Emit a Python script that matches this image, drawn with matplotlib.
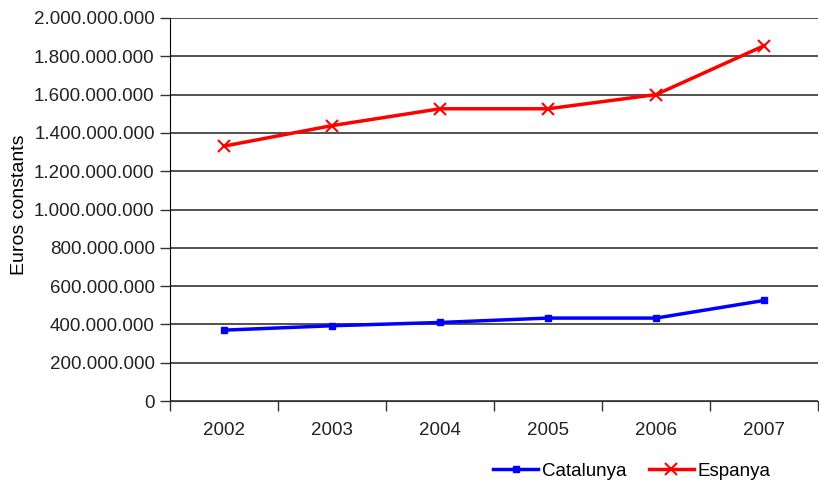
import matplotlib
matplotlib.use("Agg")
import matplotlib.pyplot as plt
from matplotlib.ticker import FuncFormatter, FixedLocator

years = ["2002", "2003", "2004", "2005", "2006", "2007"]
catalunya = [370e6, 393e6, 410e6, 433e6, 433e6, 525e6]
espanya = [1331e6, 1438e6, 1526e6, 1526e6, 1600e6, 1855e6]

plt.rcParams['font.family'] = ['Liberation Sans', 'DejaVu Sans']

fig = plt.figure(figsize=(8.2, 4.82), dpi=100)
ax = fig.add_axes([170/820, 1-401/482, 648/820, 383/482])

x = list(range(len(years)))
ax.plot(x, catalunya, color='#0000ff', lw=2.5, marker='s', ms=4.5, label='Catalunya')
ax.plot(x, espanya, color='#ff0000', lw=2.5, marker='x', ms=8, mew=1.5, label='Espanya')

ax.set_xlim(-0.5, 5.5)
ax.set_ylim(0, 2e9)
ax.set_yticks([i * 2e8 for i in range(11)])
ax.yaxis.set_major_formatter(FuncFormatter(lambda v, p: f"{int(round(v)):,}".replace(",", ".")))
ax.grid(axis='y', color='#333333', lw=1.2)
ax.set_axisbelow(True)

ax.set_xticks(x)
ax.set_xticklabels(years)
ax.xaxis.set_minor_locator(FixedLocator([i - 0.5 for i in range(7)]))
ax.tick_params(axis='x', which='major', length=0, pad=15, labelsize=13.5, labelcolor='#222222')
ax.tick_params(axis='x', which='minor', length=7, width=1, color='#333333', direction='out')
ax.tick_params(axis='y', length=7, width=1, color='#333333', labelsize=13.5, labelcolor='#222222', pad=4)

for s in ['top', 'right']:
    ax.spines[s].set_visible(False)
ax.spines['left'].set_color('black')
ax.spines['bottom'].set_color('#333333')

fig.text(20/820, 1-205/482, 'Euros constants', rotation=90, ha='center', va='center', fontsize=14, color='black')

fig.legend(loc='center', bbox_to_anchor=(632/820, 1-471/482), ncol=2, frameon=False,
           fontsize=13.5, handlelength=2.4, handletextpad=0.2, columnspacing=1.2)

fig.savefig('out.png', dpi=100)
